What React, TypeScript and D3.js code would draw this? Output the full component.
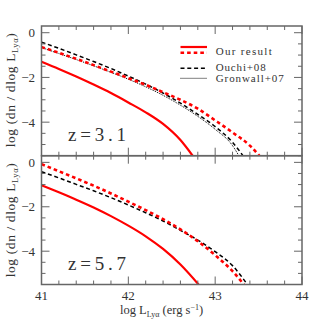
import React, { useEffect, useRef } from "react";
import * as d3 from "d3";

// log L_Lya grid and log(dn/dlogL) values
const topL = [41.0, 41.2, 41.4, 41.6, 41.8, 42.0, 42.2, 42.4, 42.6, 42.75];
const topOurSolid = [-1.3, -1.62, -1.96, -2.32, -2.7, -3.12, -3.56, -4.08, -4.8, -5.55];

const topL2 = [41.0, 41.2, 41.4, 41.6, 41.8, 42.0, 42.2, 42.4, 42.6, 42.8, 43.0, 43.2, 43.4, 43.52];
const topOurDashed = [-0.64, -0.9, -1.17, -1.45, -1.74, -2.03, -2.33, -2.66, -3.0, -3.4, -3.92, -4.46, -5.05, -5.55];

const topL3 = [41.0, 41.2, 41.4, 41.6, 41.8, 42.0, 42.2, 42.4, 42.6, 42.8, 43.0, 43.2, 43.33];
const topOuchi = [-0.42, -0.7, -0.99, -1.29, -1.6, -1.94, -2.3, -2.7, -3.15, -3.65, -4.2, -4.9, -5.55];

const topL4 = [41.0, 41.2, 41.4, 41.6, 41.8, 42.0, 42.2, 42.4, 42.6, 42.8, 43.0, 43.2, 43.28];
const topGronwall = [-0.66, -0.93, -1.2, -1.48, -1.77, -2.08, -2.42, -2.8, -3.24, -3.74, -4.32, -5.05, -5.55];

const botL = [41.0, 41.2, 41.4, 41.6, 41.8, 42.0, 42.2, 42.4, 42.6, 42.82];
const botOurSolid = [-1.03, -1.35, -1.68, -2.03, -2.42, -2.85, -3.33, -3.9, -4.6, -5.55];

const botL2 = [41.0, 41.2, 41.4, 41.6, 41.8, 42.0, 42.2, 42.4, 42.6, 42.8, 43.0, 43.2, 43.34];
const botOurDashed = [-0.08, -0.4, -0.72, -1.05, -1.4, -1.77, -2.15, -2.56, -3.02, -3.55, -4.18, -4.9, -5.55];

const botL3 = [41.0, 41.2, 41.4, 41.6, 41.8, 42.0, 42.2, 42.4, 42.6, 42.8, 43.0, 43.2, 43.38];
const botOuchi = [-0.42, -0.7, -0.99, -1.28, -1.59, -1.92, -2.27, -2.64, -3.06, -3.5, -4.02, -4.65, -5.55];

const xTickLabels = [41, 42, 43, 44];
const yTickLabels = [0, -2, -4];
const legendLabels = ["Our result", "Ouchi+08", "Gronwall+07"];
const panelLabels = ["z=3.1", "z=5.7"];

const FONT = "'Liberation Serif', 'DejaVu Serif', serif";
const FRAME = "#666";
const INK = "#333";

const styles = {
  ourSolid: { stroke: "#ff0000", width: 2.2, dash: null },
  ourDashed: { stroke: "#ff0000", width: 2.6, dash: "3.6,3" },
  ouchi: { stroke: "#000", width: 1.5, dash: "4,2.8" },
  gronwall: { stroke: "#000", width: 1, dash: "1,1" },
};

function App() {
  const ref = useRef(null);

  useEffect(() => {
    const svg = d3.select(ref.current);
    svg.selectAll("*").remove();

    const left = 41.5, right = 302;
    const x = d3.scaleLinear().domain([41, 44]).range([left, right]);
    const panels = [
      { y: d3.scaleLinear().domain([0.3, -5.5]).range([26, 155.7]), label: panelLabels[0],
        curves: [
          [topL4, topGronwall, styles.gronwall],
          [topL3, topOuchi, styles.ouchi],
          [topL2, topOurDashed, styles.ourDashed],
          [topL, topOurSolid, styles.ourSolid],
        ], labelY: 140.5, axisLabelY: 90 },
      { y: d3.scaleLinear().domain([0.3, -5.5]).range([155.7, 284.5]), label: panelLabels[1],
        curves: [
          [botL3, botOuchi, styles.ouchi],
          [botL2, botOurDashed, styles.ourDashed],
          [botL, botOurSolid, styles.ourSolid],
        ], labelY: 269.5, axisLabelY: 220 },
    ];

    panels.forEach((p, pi) => {
      const y = p.y;
      const g = svg.append("g");
      const clipId = "clip" + pi;
      g.append("clipPath").attr("id", clipId)
        .append("rect").attr("x", left).attr("y", y.range()[0])
        .attr("width", right - left).attr("height", y.range()[1] - y.range()[0]);

      // curves
      p.curves.forEach(([xs, ys, st]) => {
        const line = d3.line().curve(d3.curveMonotoneX)
          .x((d, i) => x(xs[i])).y(d => y(d));
        g.append("path")
          .attr("clip-path", `url(#${clipId})`)
          .attr("d", line(ys))
          .attr("fill", "none")
          .attr("stroke", st.stroke)
          .attr("stroke-width", st.width)
          .attr("stroke-dasharray", st.dash);
      });

      // ticks on all four sides
      const y0 = y.range()[0], y1 = y.range()[1];
      const xMinor = d3.range(41, 44.001, 0.2);
      xMinor.forEach(v => {
        const major = Math.abs(v - Math.round(v)) < 1e-6;
        const len = major ? 8 : 4;
        g.append("line").attr("x1", x(v)).attr("x2", x(v)).attr("y1", y1).attr("y2", y1 - len)
          .attr("stroke", FRAME).attr("stroke-width", 1);
        g.append("line").attr("x1", x(v)).attr("x2", x(v)).attr("y1", y0).attr("y2", y0 + len)
          .attr("stroke", FRAME).attr("stroke-width", 1);
      });
      const yMinor = d3.range(0, -5.501, -0.5);
      yMinor.forEach(v => {
        const major = Math.abs(v / 2 - Math.round(v / 2)) < 1e-6;
        const len = major ? 8 : 4;
        g.append("line").attr("x1", left).attr("x2", left + len).attr("y1", y(v)).attr("y2", y(v))
          .attr("stroke", FRAME).attr("stroke-width", 1);
        g.append("line").attr("x1", right).attr("x2", right - len).attr("y1", y(v)).attr("y2", y(v))
          .attr("stroke", FRAME).attr("stroke-width", 1);
      });

      // frame
      g.append("rect").attr("x", left).attr("y", y0).attr("width", right - left).attr("height", y1 - y0)
        .attr("fill", "none").attr("stroke", FRAME).attr("stroke-width", 1.5);

      // y tick labels
      yTickLabels.forEach(v => {
        g.append("text").attr("x", 35).attr("y", y(v) + 4.5)
          .attr("text-anchor", "end").attr("font-family", FONT).attr("font-size", 13)
          .attr("fill", INK).text(v === 0 ? "0" : "\u2212" + Math.abs(v));
      });

      // y axis label
      const t = g.append("text")
        .attr("transform", `translate(15,${p.axisLabelY}) rotate(-90)`)
        .attr("text-anchor", "middle").attr("font-family", FONT).attr("font-size", 13.5)
        .attr("letter-spacing", 0.6)
        .attr("fill", INK);
      t.append("tspan").text("log (dn / dlog L");
      t.append("tspan").attr("font-size", 8.5).attr("dy", 3).text("Ly\u03b1");
      t.append("tspan").attr("dy", -3).text(")");

      // panel label
      g.append("text").attr("x", 68).attr("y", p.labelY)
        .attr("font-family", FONT).attr("font-size", 19).attr("fill", INK)
        .attr("textLength", 58).attr("lengthAdjust", "spacing").text(p.label);
    });

    // x tick labels
    xTickLabels.forEach(v => {
      svg.append("text").attr("x", x(v)).attr("y", 300)
        .attr("text-anchor", "middle").attr("font-family", FONT).attr("font-size", 13)
        .attr("fill", INK).text(String(v));
    });

    // x axis label
    const xl = svg.append("text").attr("x", 120).attr("y", 313.5)
      .attr("font-family", FONT).attr("font-size", 12.5).attr("fill", INK);
    xl.append("tspan").text("log L");
    xl.append("tspan").attr("font-size", 8).attr("dy", 3).text("Ly\u03b1");
    xl.append("tspan").attr("dy", -3).text(" (erg s");
    xl.append("tspan").attr("font-size", 8).attr("dy", -4).text("\u22121");
    xl.append("tspan").attr("dy", 4).text(")");

    // legend
    const legend = [
      { y: 47, st: styles.ourSolid },
      { y: 52.7, st: styles.ourDashed },
      { y: 68.3, st: styles.ouchi },
      { y: 78.3, st: styles.gronwall },
    ];
    legend.forEach(l => {
      svg.append("line").attr("x1", 180.5).attr("x2", 207).attr("y1", l.y).attr("y2", l.y)
        .attr("stroke", l.st.stroke).attr("stroke-width", l.st.width)
        .attr("stroke-dasharray", l.st.dash);
    });
    const legendTextY = [54.5, 71.3, 82];
    const legendTextW = [56, 50, 68];
    legendLabels.forEach((s, i) => {
      svg.append("text").attr("x", 215.7).attr("y", legendTextY[i])
        .attr("font-family", FONT).attr("font-size", 11).attr("fill", INK)
        .attr("textLength", legendTextW[i]).attr("lengthAdjust", "spacing").text(s);
    });
  }, []);

  return (
    <svg ref={ref} width={319} height={319} style={{ position: "absolute", left: 0, top: 0 }} />
  );
}

export default App;
